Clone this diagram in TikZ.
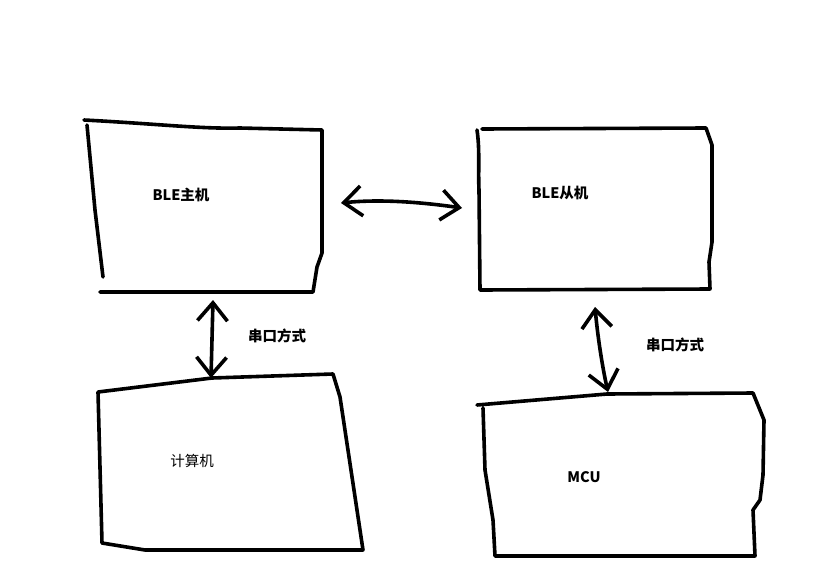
\documentclass[tikz,border=0pt]{standalone}
\usepackage{fontspec}
\newfontfamily\cjk{Noto Sans CJK SC}
\usetikzlibrary{arrows.meta}
\begin{document}
\begin{tikzpicture}[x=1pt,y=-1pt,line width=3.6pt,line cap=round,line join=round,
	every node/.style={font=\cjk\bfseries\fontsize{14.5}{16}\selectfont,inner sep=0pt},
	link/.style={{Straight Barb[length=18pt,width=30pt]}-{Straight Barb[length=18pt,width=30pt]}}]
	\useasboundingbox (0,0) rectangle (830,573);
	% boxes
	\draw (84,120) .. controls (160,124) and (200,129) .. (240,128) -- (322,130) -- (322,253) -- (317,267) -- (313,292) -- (100,292);
	\draw (87,125) -- (95,210) -- (103,277);
	\draw (477,130) .. controls (480,150) and (478,170) .. (479,190) -- (480,290) -- (710,289) -- (709,262) -- (712,242) -- (712,145) -- (706,128) -- (482,129);
	\draw (98,392) -- (212,378) -- (333,374) -- (340,397) -- (363,550) -- (145,550) -- (102,543) -- (98,392);
	\draw (477,405) -- (607,394) -- (753,393) -- (764,420) -- (763,475) -- (760,500) -- (753,510) -- (755,556) -- (495,556) -- (493,520) -- (485,470) -- (483,408);
	% texts
	\node (master) at (181,195) {BLE主机};
	\node (slave) at (560,193) {BLE从机};
	\node[font=\cjk\fontsize{14.5}{16}\selectfont] (pc) at (192,461) {计算机};
	\node (mcu) at (584,477) {MCU};
	\node (uartA) at (277,336) {串口方式};
	\node (uartB) at (675,345) {串口方式};
	% links
	\coordinate (mR) at (341,203);
	\coordinate (sL) at (462,208);
	\coordinate (mB) at (213,300);
	\coordinate (pT) at (211,378);
	\coordinate (sB) at (595,307);
	\coordinate (uT) at (608,392);
	\draw[link] (mR) .. controls (380,199) and (420,202) .. (sL);
	\draw[link] (mB) -- (pT);
	\draw[link] (sB) .. controls (598,340) and (603,370) .. (uT);
\end{tikzpicture}
\end{document}
